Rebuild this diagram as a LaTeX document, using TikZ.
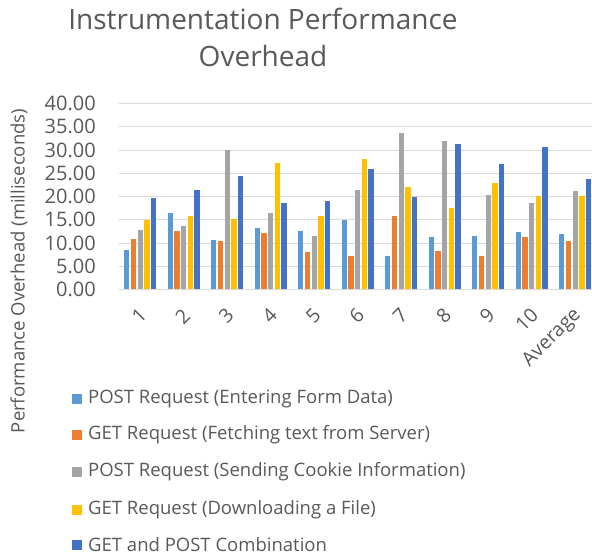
\documentclass[tikz,border=0pt]{standalone}
\usepackage{fontspec}
\setmainfont{Open Sans}
\definecolor{txt}{HTML}{595959}
\definecolor{gridc}{HTML}{D9D9D9}
\definecolor{sA}{HTML}{5B9BD5}
\definecolor{sB}{HTML}{ED7D31}
\definecolor{sC}{HTML}{A5A5A5}
\definecolor{sD}{HTML}{FFC000}
\definecolor{sE}{HTML}{4472C4}
\tikzset{
  gridline/.style={draw=gridc, line width=0.9pt},
  ticklab/.style={text=txt, font=\fontsize{20}{24}\selectfont, anchor=east, inner sep=0pt},
  catlab/.style={text=txt, font=\fontsize{19.5}{22}\selectfont, anchor=east, rotate=45, inner sep=0pt},
  leglab/.style={text=txt, font=\fontsize{18.5}{22}\selectfont, anchor=west, inner sep=0pt},
  titlelab/.style={text=txt, font=\fontsize{28}{32}\selectfont, anchor=base, inner sep=0pt},
}
\newcommand\barseries[3]{%
  \foreach \val [count=\i] in {#3}{
    \pgfmathsetmacro\cx{140.2+43.5*(\i-1)+6.7*(#2)}
    \fill[#1] ({\cx-2.65},289.5) rectangle ({\cx+2.65},{289.5-4.65*\val});
  }%
}
\begin{document}
\begin{tikzpicture}[x=1pt,y=-1pt]
\useasboundingbox (0,0) rectangle (592,556);
\fill[white] (0,0) rectangle (592,556);
% title
\node[titlelab] (t1) at (263,30) {Instrumentation Performance};
\node[titlelab] (t2) at (263,67) {Overhead};
% y axis title
\node[text=txt, font=\fontsize{18.5}{22}\selectfont, rotate=90, inner sep=0pt] (ytitle) at (19,271) {Performance Overhead (milliseconds)};
% gridlines and tick labels
\foreach \v in {0,5,...,40}{
  \draw[gridline] (118.5,{289.5-4.65*\v}) -- (592,{289.5-4.65*\v});
  \node[ticklab] (tick\v) at (96,{289.5-4.65*\v}) {\v.00};
}
% bars
\barseries{sA}{-2}{8.5,16.4,10.7,13.2,12.5,15.0,7.3,11.2,11.6,12.3,11.9}
\barseries{sB}{-1}{10.9,12.6,10.5,12.1,8.0,7.1,15.7,8.3,7.3,11.2,10.4}
\barseries{sC}{0}{12.7,13.7,30.1,16.4,11.5,21.4,33.6,31.9,20.4,18.6,21.1}
\barseries{sD}{1}{15.0,15.9,15.2,27.2,15.8,28.1,22.1,17.6,22.9,20.2,20.0}
\barseries{sE}{2}{19.7,21.5,24.4,18.7,19.1,26.0,19.9,31.3,26.9,30.6,23.8}
% category labels
\foreach \lab [count=\i] in {1,2,3,4,5,6,7,8,9,10,Average}{
  \node[catlab] (cat\i) at ({140.2+43.5*(\i-1)+3},312) {\lab};
}
% legend
\foreach \c/\y/\t [count=\i] in {sA/399/POST Request (Entering Form Data),
  sB/435/GET Request (Fetching text from Server),
  sC/472/POST Request (Sending Cookie Information),
  sD/510/GET Request (Downloading a File),
  sE/545/GET and POST Combination}{
  \fill[\c] (72,{\y-5}) rectangle (82,{\y+5});
  \node[leglab] (leg\i) at (88,\y) {\t};
}
\end{tikzpicture}
\end{document}
